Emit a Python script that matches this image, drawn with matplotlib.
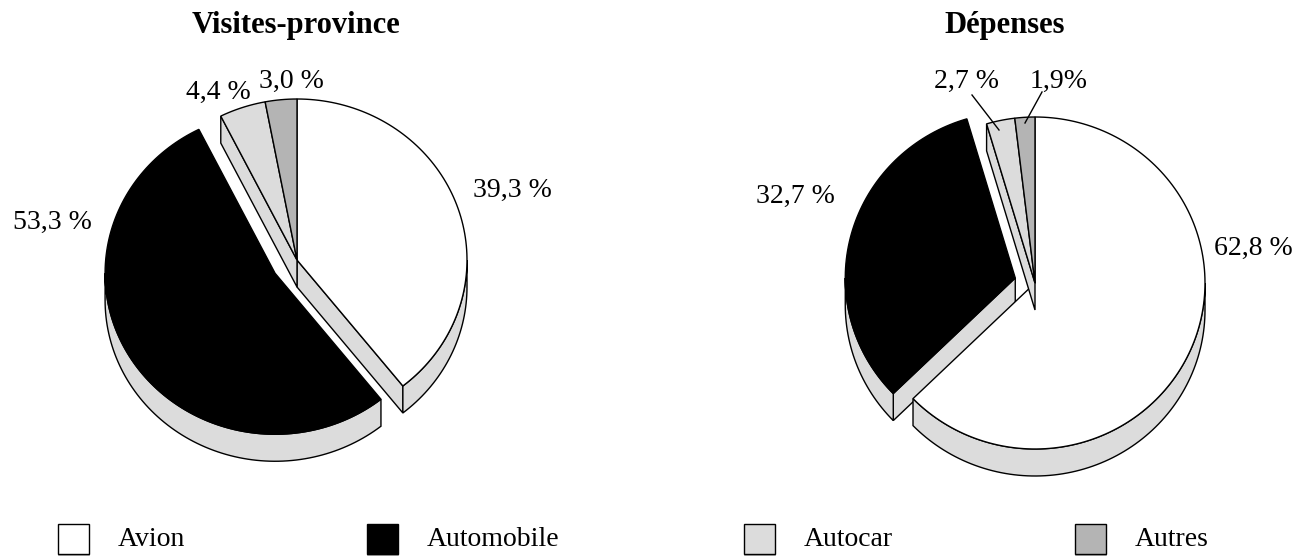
import numpy as np
import matplotlib
matplotlib.use("Agg")
import matplotlib.pyplot as plt
from matplotlib.patches import Polygon, Rectangle

# ---------------- data ----------------
categories = ["Avion", "Automobile", "Autocar", "Autres"]
visites = [39.3, 53.3, 4.4, 3.0]
depenses = [62.8, 32.7, 2.7, 1.9]
visites_labels = ["39,3 %", "53,3 %", "4,4 %", "3,0 %"]
depenses_labels = ["62,8 %", "32,7 %", "2,7 %", "1,9%"]
titles = ["Visites-province", "Dépenses"]

# ---------------- style ----------------
colors = ["#ffffff", "#000000", "#dcdcdc", "#b4b4b4"]
side_color = "#dcdcdc"
edge = "#000000"
lw = 1.0
FONT = ["Liberation Serif", "DejaVu Serif"]

W, H = 1304, 557
fig = plt.figure(figsize=(W / 100, H / 100), dpi=100)
ax = fig.add_axes([0, 0, 1, 1])
ax.set_xlim(0, W)
ax.set_ylim(H, 0)
ax.axis("off")


def pt(cx, cy, rx, ry, th, dz=0.0):
    t = np.deg2rad(th)
    return np.column_stack([cx + rx * np.cos(t), cy - ry * np.sin(t) + dz])


def arc(cx, cy, rx, ry, a, b, dz=0.0, n=None):
    if n is None:
        n = max(2, int(abs(b - a) / 1.5) + 2)
    return pt(cx, cy, rx, ry, np.linspace(a, b, n), dz)


def pie3d(values, cx, cy, rx, ry, depth, explode, z0=3):
    vals = np.asarray(values, float)
    n = len(vals)
    fr = vals / vals.sum() * 360.0
    starts = 90 - np.concatenate([[0], np.cumsum(fr)[:-1]])
    ends = starts - fr
    slices = []
    for i in range(n):
        a1, a2 = ends[i], starts[i]          # counter-clockwise interval
        mid = np.deg2rad((a1 + a2) / 2)
        ox = explode[i] * rx * np.cos(mid)
        oy = -explode[i] * ry * np.sin(mid)
        slices.append((oy, i, a1, a2, cx + ox, cy + oy))
    slices.sort(key=lambda s: s[0])
    z = z0
    for oy, i, a1, a2, sx, sy in slices:
        nxt, prv = (i + 1) % n, (i - 1) % n
        sep1 = explode[i] != explode[nxt]
        sep2 = explode[i] != explode[prv]
        # radial faces
        for ang, vis in ((a1, sep1 and np.cos(np.deg2rad(a1)) > 1e-6),
                         (a2, sep2 and np.cos(np.deg2rad(a2)) < -1e-6)):
            if vis:
                o = pt(sx, sy, rx, ry, [ang])[0]
                poly = [(sx, sy), tuple(o), (o[0], o[1] + depth), (sx, sy + depth)]
                ax.add_patch(Polygon(poly, closed=True, fc=side_color, ec=edge,
                                     lw=lw, joinstyle="miter", zorder=z))
                z += 0.01
        # curved front side (angles 180..360)
        for base in (-360, 0, 360):
            s0, s1 = max(a1, 180 + base), min(a2, 360 + base)
            if s1 > s0:
                top = arc(sx, sy, rx, ry, s0, s1)
                bot = arc(sx, sy, rx, ry, s1, s0, dz=depth)
                ax.add_patch(Polygon(np.vstack([top, bot]), closed=True,
                                     fc=side_color, ec=edge, lw=lw,
                                     joinstyle="miter", zorder=z))
                z += 0.01
        # top face
        top = np.vstack([[[sx, sy]], arc(sx, sy, rx, ry, a1, a2)])
        ax.add_patch(Polygon(top, closed=True, fc=colors[i], ec=edge, lw=lw,
                             joinstyle="miter", zorder=z))
        z += 0.01


# left pie
pie3d(visites, 297, 260, 170, 161, 27, [0, 0.153, 0, 0], z0=3)
# right pie
pie3d(depenses, 1035, 283, 170, 166, 27, [0, 0.12, 0, 0], z0=3)

# titles
title_fs = 22
ax.text(296, 25, titles[0], ha="center", va="center", fontsize=title_fs,
        fontweight="bold", family=FONT)
ax.text(1005, 25, titles[1], ha="center", va="center", fontsize=title_fs,
        fontweight="bold", family=FONT)

# value labels
lab_fs = 20
left_pos = [(512, 190), (52, 222), (218, 92), (291, 81)]
right_pos = [(1253, 248), (795, 196), (966, 81), (1059, 81)]
for (x, y), s in zip(left_pos, visites_labels):
    ax.text(x, y, s, ha="center", va="center", fontsize=lab_fs, family=FONT)
for (x, y), s in zip(right_pos, depenses_labels):
    ax.text(x, y, s, ha="center", va="center", fontsize=lab_fs, family=FONT)

# leader lines (right pie small slices)
ax.plot([972, 999], [95, 130], color=edge, lw=lw, zorder=10)
ax.plot([1042, 1025], [92, 123], color=edge, lw=lw, zorder=10)

# legend
leg_fs = 20
leg_x = [58, 367, 744, 1075]
for x, c, name in zip(leg_x, colors, categories):
    ax.add_patch(Rectangle((x, 524), 31, 30, fc=c, ec=edge, lw=lw, zorder=5))
    ax.plot([x + 1, x + 31], [555, 555], color="#a0a0a0", lw=1.2, zorder=4)
    ax.text(x + 60, 539, name, ha="left", va="center", fontsize=leg_fs,
            family=FONT)

fig.savefig("out.png", dpi=100)
